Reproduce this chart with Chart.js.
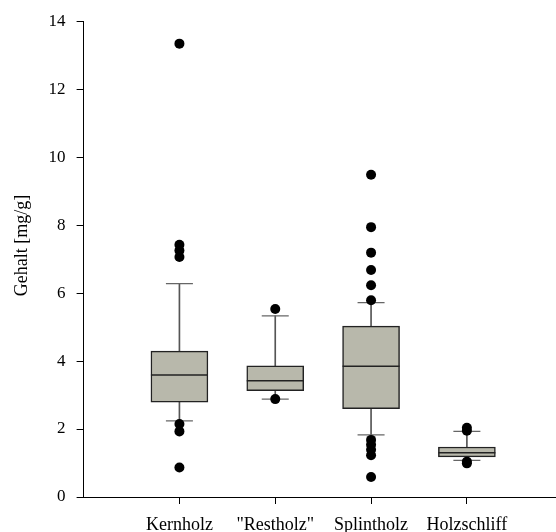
<!DOCTYPE html>
<html>
<head>
<meta charset="utf-8">
<script src="https://cdn.jsdelivr.net/npm/chart.js@4/dist/chart.umd.min.js"></script>
<style>
  body { margin: 0; background: #fff; }
  canvas { display: block; }
</style>
</head>
<body>
<canvas id="myChart" width="556" height="532"></canvas>
<script>
// Gehalt je Holzprobe (mg/g): Quartile, Whisker und Ausreisser
const categories = ['Kernholz', '"Restholz"', 'Splintholz', 'Holzschliff'];
const q1 = [2.79, 3.13, 2.60, 1.18];
const median = [3.59, 3.42, 3.85, 1.30];
const q3 = [4.29, 3.86, 5.03, 1.47];
const whiskerLow = [2.24, 2.88, 1.83, 1.08];
const whiskerHigh = [6.28, 5.33, 5.72, 1.93];
const outliers = [
    [13.34, 7.42, 7.25, 7.06, 2.15, 1.93, 0.87],
    [5.53, 2.88],
    [9.48, 7.94, 7.19, 6.68, 6.23, 5.79, 1.68, 1.54, 1.39, 1.23, 0.59],
    [2.04, 1.95, 1.04, 0.99]
];
const yTicks = [0, 2, 4, 6, 8, 10, 12, 14];

const serif = 'Liberation Serif';
const pos = categories.map( ( c, i ) => i + 1 );

const boxes = pos.map( ( x, i ) => ( { x: x, y: [ q1[i], q3[i] ] } ) );
const whiskers = pos.flatMap( ( x, i ) => [
    { x: x, y: [ whiskerLow[i], q1[i] ] },
    { x: x, y: [ q3[i], whiskerHigh[i] ] }
] );
const caps = pos.flatMap( ( x, i ) => [ { x: x, y: whiskerLow[i] }, { x: x, y: whiskerHigh[i] } ] );
const medians = pos.map( ( x, i ) => ( { x: x, y: median[i] } ) );
const dots = pos.flatMap( ( x, i ) => outliers[i].map( v => ( { x: x, y: v } ) ) );

const axisGrid = {
    display: true,
    offset: false,
    drawOnChartArea: false,
    drawTicks: true,
    tickLength: 7,
    color: '#000',
    lineWidth: 1
};

const ctx = document.getElementById( 'myChart' ).getContext( '2d' );

var myChart = new Chart( ctx, {
    type: 'bar',
    data: {
        datasets: [
            {
                type: 'scatter',
                data: dots,
                pointRadius: 5,
                pointBackgroundColor: '#000',
                pointBorderWidth: 0,
                order: 0
            },
            {
                type: 'scatter',
                data: medians,
                pointStyle: 'line',
                pointRadius: 28.5,
                pointBorderColor: '#222',
                pointBorderWidth: 1.5,
                order: 1
            },
            {
                type: 'scatter',
                data: caps,
                pointStyle: 'line',
                pointRadius: 13.5,
                pointBorderColor: '#666',
                pointBorderWidth: 1.2,
                order: 2
            },
            {
                data: boxes,
                backgroundColor: '#b8b8ab',
                borderColor: '#222',
                borderWidth: 1.5,
                borderSkipped: false,
                barThickness: 57,
                grouped: false,
                order: 3
            },
            {
                data: whiskers,
                backgroundColor: '#555',
                borderWidth: 0,
                barThickness: 1,
                grouped: false,
                order: 4
            }
        ]
    },
    options: {
        responsive: false,
        animation: false,
        layout: {
            autoPadding: false,
            padding: { top: 8, right: 0, bottom: -14, left: 0 }
        },
        plugins: {
            legend: { display: false },
            tooltip: { enabled: false }
        },
        scales: {
            x: {
                type: 'linear',
                offset: false,
                min: 0,
                max: 4.93,
                afterBuildTicks: function ( scale ) {
                    scale.ticks = pos.map( v => ( { value: v } ) );
                },
                ticks: {
                    autoSkip: false,
                    maxRotation: 0,
                    padding: 12,
                    color: '#000',
                    font: { family: serif, size: 18, lineHeight: 1.0 },
                    callback: function ( v ) { return categories[ v - 1 ]; }
                },
                grid: axisGrid,
                border: { display: true, color: '#000', width: 1 }
            },
            y: {
                min: 0,
                max: 14,
                afterBuildTicks: function ( scale ) {
                    scale.ticks = yTicks.map( v => ( { value: v } ) );
                },
                ticks: {
                    padding: 11,
                    color: '#000',
                    font: { family: serif, size: 17 }
                },
                grid: axisGrid,
                border: { display: true, color: '#000', width: 1 },
                title: {
                    display: true,
                    // leading blanks lift the label a little above the axis centre
                    text: '      Gehalt [mg/g]',
                    color: '#000',
                    font: { family: serif, size: 18 },
                    padding: { top: 11, bottom: 5 }
                }
            }
        }
    }
} );
</script>
</body>
</html>
